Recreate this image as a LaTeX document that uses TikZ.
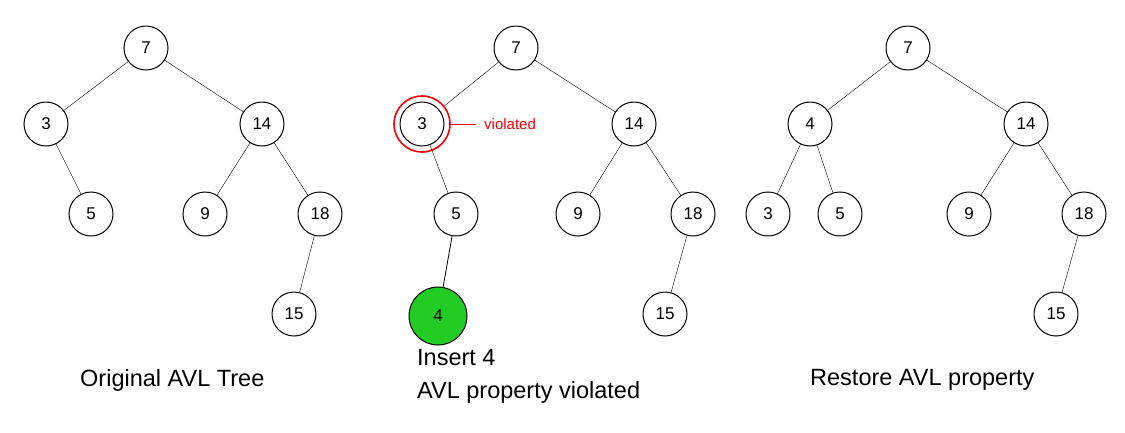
\documentclass[tikz,border=0pt]{standalone}
\usepackage{fontspec}
\setmainfont{Liberation Sans}
\begin{document}
\begin{tikzpicture}[x=1pt,y=-1pt,
  nd/.style={circle,draw,line width=1pt,minimum size=44pt,inner sep=0pt,font=\fontsize{17}{17}\selectfont},
  captxt/.style={font=\fontsize{23.5}{28}\selectfont,anchor=west,inner sep=0pt}]
\useasboundingbox (0,0) rectangle (1125,432);
% tree 1
\node[nd] (a7) at (146,48) {7};
\node[nd] (a3) at (46,124) {3};
\node[nd] (a14) at (262,124) {14};
\node[nd] (a5) at (91,214) {5};
\node[nd] (a9) at (205,214) {9};
\node[nd] (a18) at (320,214) {18};
\node[nd] (a15) at (294,314) {15};
\draw (a7)--(a3) (a7)--(a14) (a3)--(a5) (a14)--(a9) (a14)--(a18) (a18)--(a15);
% tree 2
\node[nd] (b7) at (516,48) {7};
\node[nd] (b3) at (422,124) {3};
\node[circle,draw=red,line width=1.6pt,minimum size=56pt] (ring) at (422,124) {};
\node[nd] (b14) at (634,124) {14};
\node[nd] (b5) at (456,214) {5};
\node[nd] (b9) at (578,214) {9};
\node[nd] (b18) at (693,214) {18};
\node[nd,fill={rgb,255:red,34;green,204;blue,34},minimum size=58pt] (b4) at (438,316) {4};
\node[nd] (b15) at (665,314) {15};
\node[text=red,font=\fontsize{15}{15}\selectfont,anchor=west,inner sep=0pt] (viol) at (484,124) {violated};
\draw[red] (ring.east)--([xshift=-8pt]viol.west);
\draw (ring)--(b7) (b7)--(b14) (b3)--(b5) (b14)--(b9) (b14)--(b18) (b18)--(b15);
\draw[thick] (b5)--(b4);
% tree 3
\node[nd] (c7) at (908,48) {7};
\node[nd] (c4) at (810,124) {4};
\node[nd] (c14) at (1026,124) {14};
\node[nd] (c3) at (768,214) {3};
\node[nd] (c5) at (840,214) {5};
\node[nd] (c9) at (969,214) {9};
\node[nd] (c18) at (1084,214) {18};
\node[nd] (c15) at (1056,314) {15};
\draw (c7)--(c4) (c7)--(c14) (c4)--(c3) (c4)--(c5) (c14)--(c9) (c14)--(c18) (c18)--(c15);
% captions
\node[captxt] (t1) at (80,380) {Original AVL Tree};
\node[captxt] (t2) at (417,358) {Insert 4};
\node[captxt] (t3) at (417,392) {AVL property violated};
\node[captxt] (t4) at (810,380) {Restore AVL property};
\end{tikzpicture}
\end{document}
